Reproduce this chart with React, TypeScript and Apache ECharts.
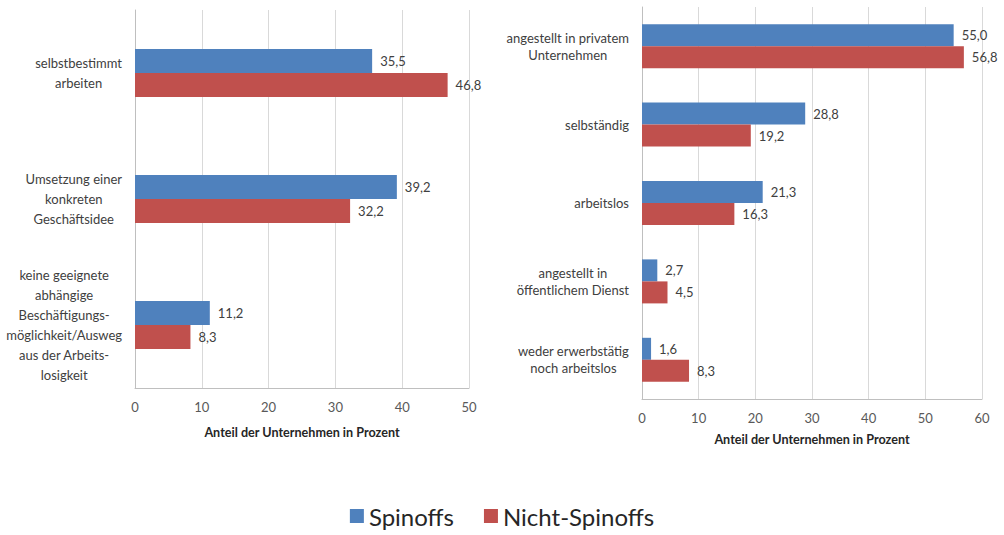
import React, { useEffect, useRef } from "react";
import * as echarts from "echarts";

const leftCategories = [
  "selbstbestimmt\narbeiten",
  "Umsetzung einer\nkonkreten\nGeschäftsidee",
  "keine geeignete\nabhängige\nBeschäftigungs-\nmöglichkeit/Ausweg\naus der Arbeits-\nlosigkeit",
];
const leftSpinoffs = [35.5, 39.2, 11.2];
const leftNicht = [46.8, 32.2, 8.3];

const rightCategories = [
  "angestellt in privatem\nUnternehmen",
  "selbständig",
  "arbeitslos",
  "angestellt in\nöffentlichem Dienst",
  "weder erwerbstätig\nnoch arbeitslos",
];
const rightSpinoffs = [55.0, 28.8, 21.3, 2.7, 1.6];
const rightNicht = [56.8, 19.2, 16.3, 4.5, 8.3];

const seriesNames = ["Spinoffs", "Nicht-Spinoffs"];
const axisName = "Anteil der Unternehmen in Prozent";

const BLUE = "#4F81BD";
const RED = "#C0504D";
const FONT = "Lato";

const fmt = (v: number) => v.toFixed(1).replace(".", ",");

export default function App() {
  const ref = useRef<HTMLDivElement>(null);
  useEffect(() => {
    if (!ref.current) return;
    const chart = echarts.init(ref.current, undefined, { renderer: "svg" });

    const catLabel = (lh: number) => ({
      margin: 13,
      align: "right" as const,
      formatter: (v: string) =>
        v
          .split("\n")
          .map((l) => `{c|${l}}`)
          .join("\n"),
      rich: {
        c: {
          align: "center",
          fontSize: 13,
          lineHeight: lh,
          fontFamily: FONT,
          color: "#404040",
        },
      },
    });

    const valueAxis = (grid: number, max: number, gap: number) => ({
      type: "value" as const,
      gridIndex: grid,
      min: 0,
      max,
      interval: 10,
      name: axisName,
      nameLocation: "middle" as const,
      nameGap: gap,
      nameTextStyle: {
        fontFamily: FONT,
        fontSize: 12.6,
        fontWeight: "bold" as const,
        color: "#262626",
      },
      axisLine: { show: true, lineStyle: { color: "#BFBFBF" } },
      axisTick: { show: false },
      axisLabel: {
        margin: 12,
        fontFamily: FONT,
        fontSize: 13,
        color: "#595959",
      },
      splitLine: { show: true, lineStyle: { color: "#D9D9D9", width: 1 } },
    });

    const catAxis = (grid: number, data: string[], lh: number) => ({
      type: "category" as const,
      gridIndex: grid,
      data,
      inverse: true,
      axisLine: { show: true, lineStyle: { color: "#BFBFBF" } },
      axisTick: { show: false },
      axisLabel: catLabel(lh),
    });

    const valueLabel = {
      show: true,
      position: "right" as const,
      distance: 8,
      fontFamily: FONT,
      fontSize: 13,
      color: "#404040",
      formatter: (p: any) => fmt(p.value),
    };

    const bar = (
      name: string,
      data: number[],
      color: string,
      idx: number,
      width: number
    ) => ({
      name,
      type: "bar" as const,
      xAxisIndex: idx,
      yAxisIndex: idx,
      data,
      barWidth: width,
      barGap: "0%",
      itemStyle: { color },
      label: valueLabel,
    });

    chart.setOption({
      animation: false,
      textStyle: { fontFamily: FONT },
      legend: {
        data: seriesNames,
        bottom: 2,
        left: "center",
        icon: "rect",
        itemWidth: 14,
        itemHeight: 14,
        itemGap: 30,
        textStyle: { fontFamily: FONT, fontSize: 24, color: "#262626" },
      },
      grid: [
        { left: 135, right: 535, top: 10, bottom: 147, containLabel: false },
        { left: 642, right: 22, top: 7, bottom: 136, containLabel: false },
      ],
      xAxis: [valueAxis(0, 50, 38), valueAxis(1, 60, 34)],
      yAxis: [catAxis(0, leftCategories, 20), catAxis(1, rightCategories, 17)],
      series: [
        bar(seriesNames[0], leftSpinoffs, BLUE, 0, 24),
        bar(seriesNames[1], leftNicht, RED, 0, 24),
        bar(seriesNames[0], rightSpinoffs, BLUE, 1, 22),
        bar(seriesNames[1], rightNicht, RED, 1, 22),
      ],
    });

    return () => chart.dispose();
  }, []);

  return (
    <div
      ref={ref}
      style={{
        position: "absolute",
        left: 0,
        top: 0,
        width: 1004,
        height: 535,
        background: "#fff",
      }}
    />
  );
}
